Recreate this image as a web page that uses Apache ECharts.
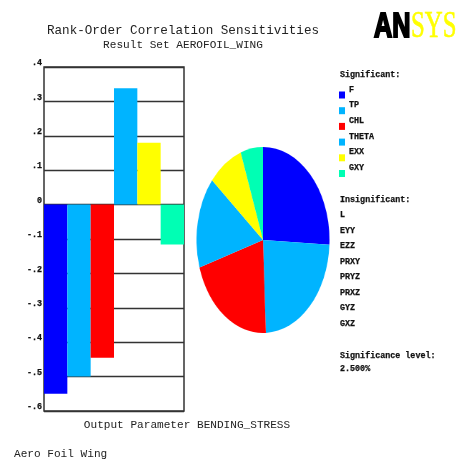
<!DOCTYPE html>
<html><head><meta charset="utf-8">
<script src="https://cdn.jsdelivr.net/npm/echarts@6/dist/echarts.min.js"></script>
<style>
html,body{margin:0;padding:0;background:#fff;overflow:hidden}
#main{position:absolute;left:0;top:0;width:459px;height:461px}
#pie{position:absolute;left:170px;top:147px;width:186px;height:186px;transform:scaleX(0.715);transform-origin:50% 50%}
</style></head><body>
<div id="main"></div><div id="pie"></div>
<script>
const categories = ['F','TP','CHL','THETA','EXX','GXY'];
const sensitivities = [-0.55, -0.50, -0.445, 0.338, 0.18, -0.116];
const colors = ['#0000ff','#00b4ff','#ff0000','#00b4ff','#ffff00','#00ffb4'];
const insignificant = ['L','EYY','EZZ','PRXY','PRYZ','PRXZ','GYZ','GXZ'];
const yTickLabels = ['-.6','-.5','-.4','-.3','-.2','-.1','0','.1','.2','.3','.4'];
const significanceLevel = '2.500%';
const titleLines = ['Rank-Order Correlation Sensitivities','Result Set AEROFOIL_WING'];
const xAxisName = 'Output Parameter BENDING_STRESS';
const subtitle = 'Aero Foil Wing';

const MONO = '"Liberation Mono", "Courier New", monospace';
const txt = (x, y, text, size, extra) => ({
  type: 'text', x: x, y: y, silent: true,
  style: Object.assign({text: text, font: size + 'px ' + MONO, fill: '#222', textAlign: 'left', textVerticalAlign: 'middle'}, extra || {})
});

const graphic = [];
graphic.push(txt(183, 31, titleLines[0], 12.6, {textAlign: 'center'}));
graphic.push(txt(183, 45, titleLines[1], 11.1, {textAlign: 'center'}));
graphic.push(txt(187, 425, xAxisName, 11.1, {textAlign: 'center'}));
graphic.push(txt(14, 454, subtitle, 11.1));
// logo
graphic.push({type: 'text', x: 374, y: 27, scaleX: 0.72, silent: true,
  style: {text: 'AN', font: 'bold 35px "Liberation Sans", Arial, sans-serif', fill: '#000', stroke: '#000', lineWidth: 2.2, textVerticalAlign: 'middle'}});
graphic.push({type: 'text', x: 411, y: 27, scaleX: 0.67, silent: true,
  style: {text: 'SYS', font: '37px "Liberation Serif", "Times New Roman", serif', fill: '#ffff00', stroke: '#ffff00', lineWidth: 0.6, textVerticalAlign: 'middle'}});
// legend
const LB = 'bold 8.4px ' + MONO;
const LT = (x, y, t) => ({type: 'text', x: x, y: y, silent: true, style: {text: t, font: LB, fill: '#111', stroke: '#111', lineWidth: 0.25, textVerticalAlign: 'middle'}});
graphic.push(LT(340, 75, 'Significant:'));
categories.forEach((c, i) => {
  graphic.push({type: 'rect', silent: true, shape: {x: 339, y: 91.5 + 15.7 * i, width: 6, height: 7}, style: {fill: colors[i]}});
  graphic.push(LT(349, 89.5 + 15.7 * i, c));
});
graphic.push(LT(340, 200, 'Insignificant:'));
insignificant.forEach((c, i) => graphic.push(LT(340, 215 + 15.5 * i, c)));
graphic.push(LT(340, 356, 'Significance level:'));
graphic.push(LT(340, 369, significanceLevel));

const chart = echarts.init(document.getElementById('main'), null, {renderer: 'canvas'});
chart.setOption({
  animation: false,
  backgroundColor: '#fff',
  graphic: graphic,
  grid: {left: 44, top: 67, width: 140, height: 344, show: true, borderColor: '#333', borderWidth: 1.5, backgroundColor: 'transparent'},
  xAxis: {type: 'category', data: categories, axisLine: {show: false}, axisTick: {show: false}, axisLabel: {show: false}, splitLine: {show: false}},
  yAxis: {type: 'value', min: -0.6, max: 0.4, interval: 0.1,
    axisLine: {show: false}, axisTick: {show: false},
    axisLabel: {margin: 2, align: 'right', verticalAlign: 'bottom', fontSize: 8.4, fontWeight: 'bold', fontFamily: MONO, color: '#111',
      textBorderColor: '#111', textBorderWidth: 0.25,
      formatter: v => yTickLabels[Math.round((v + 0.6) * 10)]},
    splitLine: {show: true, lineStyle: {color: '#333', width: 1.3}}},
  series: [{type: 'bar', barCategoryGap: '0%', silent: true,
    data: sensitivities.map((v, i) => ({value: v, itemStyle: {color: colors[i]}}))}]
});

const pie = echarts.init(document.getElementById('pie'), null, {renderer: 'canvas'});
pie.setOption({
  animation: false,
  series: [{type: 'pie', radius: [0, 93], center: ['50%', '50%'], startAngle: 90, clockwise: true, silent: true,
    label: {show: false}, labelLine: {show: false},
    data: categories.map((c, i) => ({name: c, value: Math.abs(sensitivities[i]), itemStyle: {color: colors[i]}}))}]
});
</script></body></html>
